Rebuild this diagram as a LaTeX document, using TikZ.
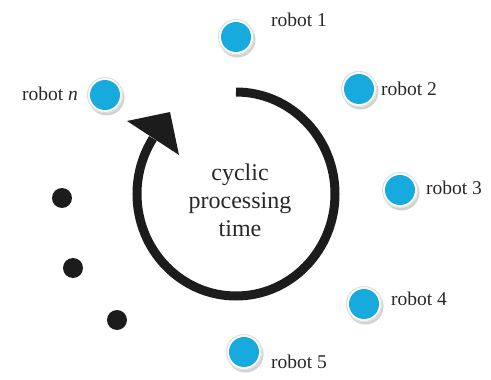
\documentclass[tikz,border=0pt]{standalone}
\usepackage{fontspec}
\setmainfont{Liberation Serif}
\definecolor{robotblue}{RGB}{22,170,222}
\definecolor{ink}{RGB}{28,28,28}
\definecolor{txt}{RGB}{40,40,40}
\begin{document}
\begin{tikzpicture}[x=1pt,y=-1pt,
  robotlabel/.style={anchor=west,inner sep=0pt,text=txt,font=\fontsize{19.5}{21}\selectfont},
  dot/.style={fill=ink,circle,minimum size=20pt,inner sep=0pt},
  cycletext/.style={align=center,text=txt,font=\fontsize{24}{28}\selectfont}]
\useasboundingbox (0,0) rectangle (491,380);
\newcommand{\robotat}[2]{%
  \fill[gray!35] (#1)++(1.5,2.5) circle[radius=18];
  \fill[white] (#1) circle[radius=18];
  \draw[cyan!15!gray!30,line width=1pt] (#1) circle[radius=17.5];
  \node[circle,fill=robotblue,minimum size=30pt,inner sep=0pt] (#2) at (#1) {};}
\robotat{236,37}{r1}
\robotat{359,89}{r2}
\robotat{400,190}{r3}
\robotat{364,304}{r4}
\robotat{244,352}{r5}
\robotat{105,95}{rn}
\node[robotlabel] (l1) at (271,20) {robot 1};
\node[robotlabel] (l2) at (381,89) {robot 2};
\node[robotlabel] (l3) at (426,188) {robot 3};
\node[robotlabel] (l4) at (391,299) {robot 4};
\node[robotlabel] (l5) at (271,362) {robot 5};
\node[robotlabel,anchor=east] (ln) at (78,94) {robot \textit{n}};
\node[dot] (d1) at (62,198) {};
\node[dot] (d2) at (73,268) {};
\node[dot] (d3) at (117,320) {};
% cycle arrow
\draw[ink,line width=9pt] (236,92) arc[start angle=90,end angle=-213,x radius=99,y radius=-102];
\fill[ink] (127,121) -- (170,112) -- (179,155) -- cycle;
\node[cycletext] (ct) at (240,200) {cyclic\\processing\\time};
\end{tikzpicture}
\end{document}
